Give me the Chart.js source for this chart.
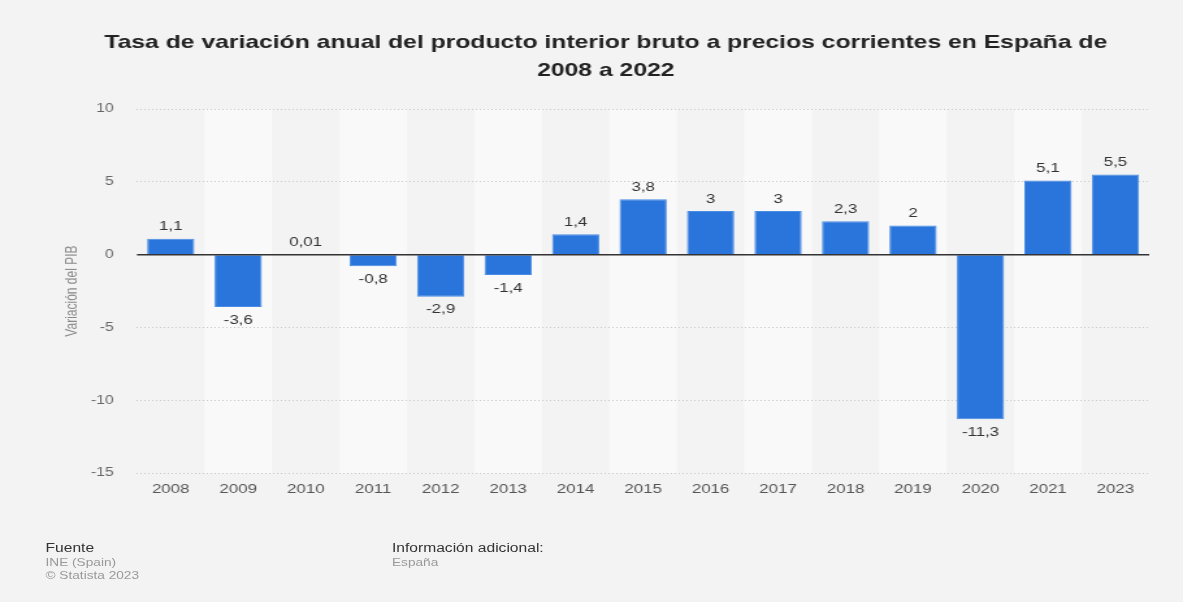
<!DOCTYPE html>
<html>
<head>
<meta charset="utf-8">
<script src="https://cdn.jsdelivr.net/npm/chart.js@4"></script>
<style>
  html, body { margin: 0; padding: 0; background: #f3f3f3; overflow: hidden; }
  /* the reference is horizontally stretched, so draw narrow and stretch */
  #wrap { position: relative; width: 910px; height: 602px; transform: scaleX(1.3); transform-origin: 0 0; }
  canvas { position: absolute; left: 0; top: 0; }
  .foot { position: absolute; font-family: "Liberation Sans", Arial, sans-serif; font-size: 10.5px; line-height: 13.5px; color: #999; }
  .foot b { font-weight: normal; color: #333; font-size: 12px; }
</style>
</head>
<body>
<div id="wrap">
  <canvas id="chart" width="910" height="602"></canvas>
  <div class="foot" style="left:35px; top:542px;"><b>Fuente</b><br>INE (Spain)<br>© Statista 2023</div>
  <div class="foot" style="left:301.5px; top:542px;"><b>Información adicional:</b><br>España</div>
</div>
<script>
const years = ['2008', '2009', '2010', '2011', '2012', '2013', '2014', '2015', '2016', '2017', '2018', '2019', '2020', '2021', '2023'];
const variation = [1.1, -3.6, 0.01, -0.8, -2.9, -1.4, 1.4, 3.8, 3, 3, 2.3, 2, -11.3, 5.1, 5.5];
const yTicks = [10, 5, 0, -5, -10, -15];

const fontFamily = '"Liberation Sans", Arial, sans-serif';

// alternate column bands behind the bars
const bandPlugin = {
  id: 'bands',
  beforeDraw(chart) {
    const { ctx, chartArea, scales } = chart;
    const x = scales.x;
    const step = (chartArea.right - chartArea.left) / years.length;
    ctx.save();
    ctx.fillStyle = '#f9f9f9';
    years.forEach((y, i) => {
      if (i % 2 === 1) {
        const cx = x.getPixelForValue(i);
        ctx.fillRect(cx - step / 2, chartArea.top, step, chartArea.bottom - chartArea.top);
      }
    });
    ctx.restore();
  }
};

// solid zero line + value labels above / below each bar
const labelPlugin = {
  id: 'barLabels',
  afterDatasetsDraw(chart) {
    const { ctx, chartArea, scales } = chart;
    const y0 = scales.y.getPixelForValue(0);
    ctx.save();
    ctx.strokeStyle = '#333';
    ctx.lineWidth = 1.5;
    ctx.beginPath();
    ctx.moveTo(chartArea.left, y0);
    ctx.lineTo(chartArea.right, y0);
    ctx.stroke();

    const meta = chart.getDatasetMeta(0);
    ctx.font = '13px ' + fontFamily;
    ctx.fillStyle = '#333';
    ctx.textAlign = 'center';
    ctx.textBaseline = 'middle';
    meta.data.forEach((bar, i) => {
      const v = variation[i];
      const txt = String(v).replace('.', ',');
      const y = v >= 0 ? bar.y - 12 : bar.y + 13;
      ctx.fillText(txt, bar.x, y);
    });
    ctx.restore();
  }
};

new Chart(document.getElementById('chart'), {
  type: 'bar',
  data: {
    labels: years,
    datasets: [{
      data: variation,
      backgroundColor: '#2a75dc',
      borderColor: '#4a8be4',
      borderWidth: 1,
      categoryPercentage: 1,
      barPercentage: 0.7
    }]
  },
  options: {
    responsive: false,
    animation: false,
    layout: { padding: { left: 48, right: 26, top: 19, bottom: 99 } },
    plugins: {
      legend: { display: false },
      tooltip: { enabled: false },
      title: {
        display: true,
        text: ['Tasa de variación anual del producto interior bruto a precios corrientes en España de', '2008 a 2022'],
        color: '#222',
        font: { family: fontFamily, size: 19, weight: 'bold', lineHeight: 1.45 },
        padding: { top: 10, bottom: 25 }
      }
    },
    scales: {
      x: {
        grid: { display: false, drawTicks: false },
        border: { display: false },
        ticks: { color: '#555', font: { family: fontFamily, size: 13 }, padding: 9 },
        afterFit(s) { s.height = 30; }
      },
      y: {
        min: -15,
        max: 10,
        afterBuildTicks(s) { s.ticks = yTicks.map(v => ({ value: v })); },
        border: { display: false, dash: [1, 2] },
        grid: {
          drawTicks: false,
          color: ctx => ctx.tick && ctx.tick.value === 0 ? 'rgba(0,0,0,0)' : '#c8c8c8'
        },
        ticks: { color: '#666', font: { family: fontFamily, size: 12 }, padding: 18 },
        title: {
          display: true,
          text: 'Variación del PIB',
          color: '#888',
          font: { family: fontFamily, size: 12 },
          padding: { top: 0, bottom: 0 }
        },
        afterFit(s) { s.width = 57.4; }
      }
    }
  },
  plugins: [bandPlugin, labelPlugin]
});
</script>
</body>
</html>
